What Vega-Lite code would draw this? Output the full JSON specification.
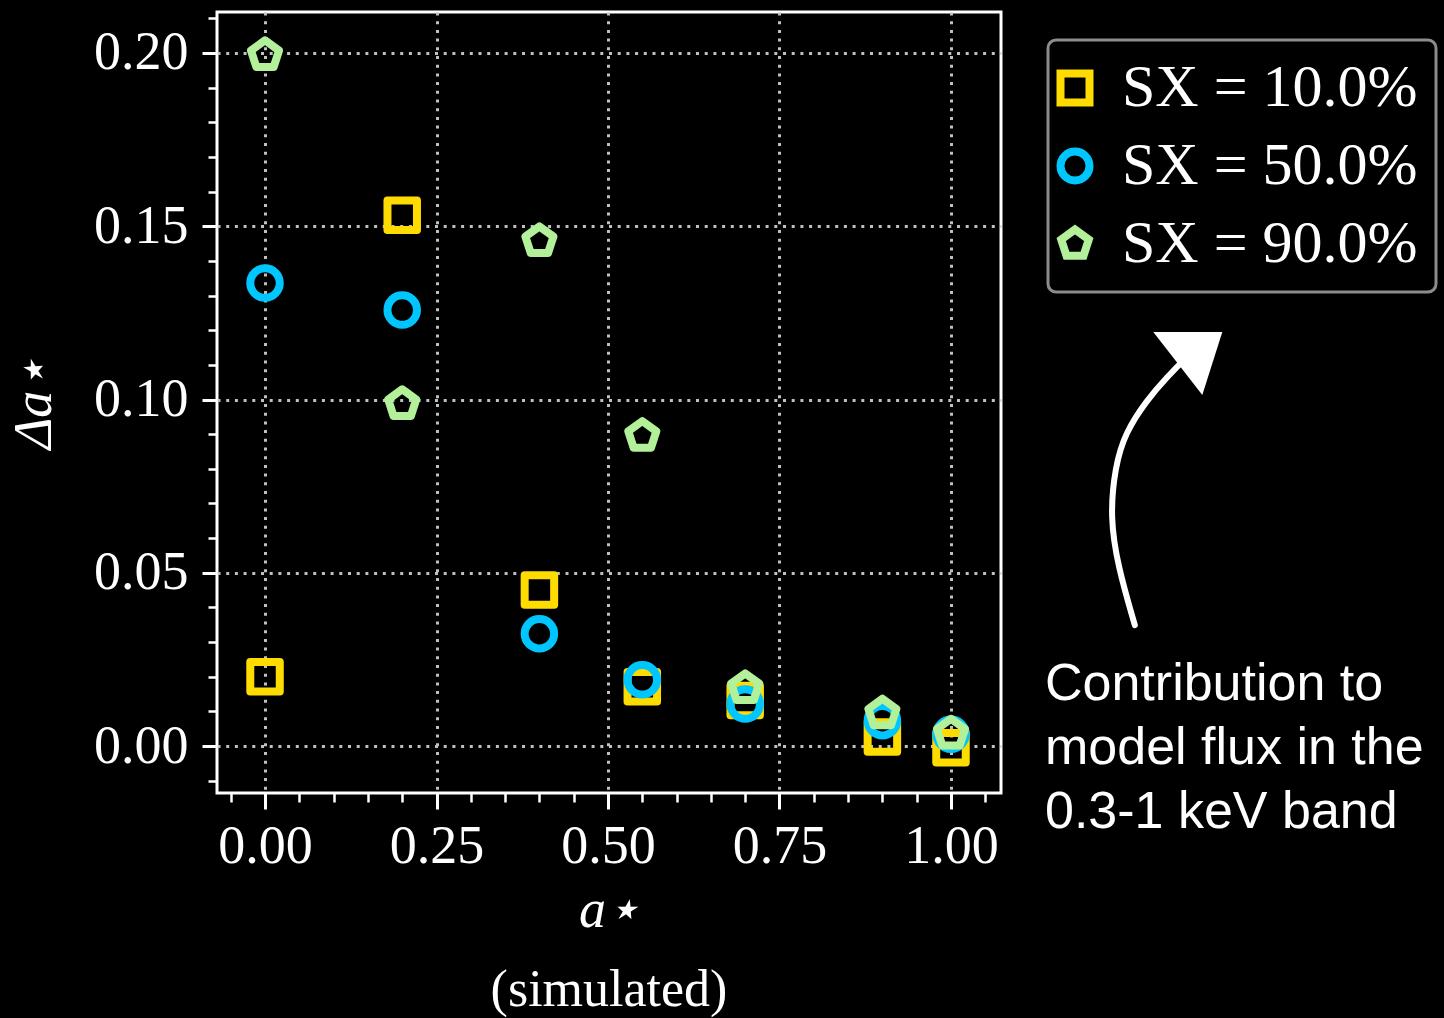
{
  "$schema": "https://vega.github.io/schema/vega-lite/v6.json",
  "width": 784,
  "height": 781,
  "autosize": {"type": "none"},
  "padding": {"left": 217, "top": 12, "right": 443, "bottom": 225},
  "background": "black",
  "datasets": {
    "spin": [
      {"spin": 0.0, "delta": 0.0200, "sx": "SX = 10.0%"},
      {"spin": 0.2, "delta": 0.1532, "sx": "SX = 10.0%"},
      {"spin": 0.4, "delta": 0.0450, "sx": "SX = 10.0%"},
      {"spin": 0.55, "delta": 0.0171, "sx": "SX = 10.0%"},
      {"spin": 0.7, "delta": 0.0131, "sx": "SX = 10.0%"},
      {"spin": 0.9, "delta": 0.0026, "sx": "SX = 10.0%"},
      {"spin": 1.0, "delta": -0.0005, "sx": "SX = 10.0%"},
      {"spin": 0.0, "delta": 0.1336, "sx": "SX = 50.0%"},
      {"spin": 0.2, "delta": 0.1258, "sx": "SX = 50.0%"},
      {"spin": 0.4, "delta": 0.0324, "sx": "SX = 50.0%"},
      {"spin": 0.55, "delta": 0.0191, "sx": "SX = 50.0%"},
      {"spin": 0.7, "delta": 0.0121, "sx": "SX = 50.0%"},
      {"spin": 0.9, "delta": 0.0073, "sx": "SX = 50.0%"},
      {"spin": 1.0, "delta": 0.0034, "sx": "SX = 50.0%"},
      {"spin": 0.0, "delta": 0.1994, "sx": "SX = 90.0%"},
      {"spin": 0.2, "delta": 0.0987, "sx": "SX = 90.0%"},
      {"spin": 0.4, "delta": 0.1457, "sx": "SX = 90.0%"},
      {"spin": 0.55, "delta": 0.0895, "sx": "SX = 90.0%"},
      {"spin": 0.7, "delta": 0.0167, "sx": "SX = 90.0%"},
      {"spin": 0.9, "delta": 0.0094, "sx": "SX = 90.0%"},
      {"spin": 1.0, "delta": 0.0036, "sx": "SX = 90.0%"}
    ],
    "arrow": [
      {"ax": 1.268, "ay": 0.0349},
      {"ax": 1.2434, "ay": 0.0517},
      {"ax": 1.2318, "ay": 0.0661},
      {"ax": 1.2391, "ay": 0.0805},
      {"ax": 1.2536, "ay": 0.0903},
      {"ax": 1.2857, "ay": 0.0999},
      {"ax": 1.3149, "ay": 0.1065},
      {"ax": 1.344, "ay": 0.1123},
      {"ax": 1.3673, "ay": 0.1163}
    ],
    "head": [{"ax": 1.3518, "ay": 0.1134}],
    "note": [{"ax": 1.137, "ay": 0.0133, "text": "Contribution to\nmodel flux in the\n0.3-1 keV band"}]
  },
  "title": {
    "text": "(simulated)",
    "orient": "bottom",
    "anchor": "middle",
    "offset": 28,
    "font": "Liberation Serif",
    "fontSize": 52,
    "fontWeight": "normal",
    "color": "white"
  },
  "layer": [
    {
      "description": "Minor ticks on both axes",
      "data": {"name": "spin"},
      "mark": {"type": "point", "opacity": 0},
      "encoding": {
        "x": {
          "field": "spin", "type": "quantitative",
          "scale": {"domain": [-0.07, 1.0729], "nice": false, "zero": false},
          "axis": {"orient": "bottom", "values": [-0.05, 0.05, 0.1, 0.15, 0.2, 0.3, 0.35, 0.4, 0.45, 0.55, 0.6, 0.65, 0.7, 0.8, 0.85, 0.9, 0.95, 1.05], "labels": false, "grid": false, "tickSize": 9, "tickWidth": 2.5, "title": null}
        },
        "y": {
          "field": "delta", "type": "quantitative",
          "scale": {"domain": [-0.01356, 0.21183], "nice": false, "zero": false},
          "axis": {"orient": "left", "values": [-0.01, 0.01, 0.02, 0.03, 0.04, 0.06, 0.07, 0.08, 0.09, 0.11, 0.12, 0.13, 0.14, 0.16, 0.17, 0.18, 0.19, 0.21], "labels": false, "grid": false, "tickSize": 9, "tickWidth": 2.5, "title": null}
        }
      }
    },
    {
      "description": "Spin uncertainty for each soft-excess fraction",
      "data": {"name": "spin"},
      "mark": {"type": "point", "filled": false, "strokeWidth": 8, "strokeJoin": "round", "size": 870, "opacity": 1},
      "encoding": {
        "x": {
          "field": "spin", "type": "quantitative",
          "axis": {"orient": "bottom", "values": [0, 0.25, 0.5, 0.75, 1], "format": ".2f", "tickSize": 16, "labelPadding": 10, "grid": true, "title": "a⋆", "titleFontStyle": "italic", "titlePadding": 10}
        },
        "y": {
          "field": "delta", "type": "quantitative",
          "axis": {"orient": "left", "values": [0, 0.05, 0.1, 0.15, 0.2], "format": ".2f", "tickSize": 15, "labelPadding": 14, "grid": true, "title": "Δa⋆", "titleFontStyle": "italic", "titlePadding": 32}
        },
        "color": {
          "field": "sx", "type": "nominal",
          "scale": {"domain": ["SX = 10.0%", "SX = 50.0%", "SX = 90.0%"], "range": ["#FFDC00", "#00C6FF", "#B3F09A"]},
          "legend": {
            "title": null, "orient": "none", "legendX": 831, "legendY": 28,
            "fillColor": "black", "strokeColor": "#8c8c8c", "cornerRadius": 8,
            "padding": 18, "labelFont": "Liberation Serif", "labelFontSize": 60, "labelColor": "white", "labelLimit": 0,
            "symbolSize": 841, "symbolStrokeWidth": 8, "symbolOffset": -21, "labelOffset": 17, "rowPadding": 16
          }
        },
        "shape": {
          "field": "sx", "type": "nominal",
          "scale": {"domain": ["SX = 10.0%", "SX = 50.0%", "SX = 90.0%"], "range": ["square", "circle", "M0,-1L0.951,-0.309L0.588,0.809L-0.588,0.809L-0.951,-0.309Z"]}
        }
      }
    },
    {
      "description": "Hand-drawn style arrow pointing at the legend",
      "data": {"name": "arrow"},
      "mark": {"type": "line", "color": "white", "strokeWidth": 6, "strokeCap": "round", "interpolate": "basis"},
      "encoding": {
        "x": {"field": "ax", "type": "quantitative", "axis": null},
        "y": {"field": "ay", "type": "quantitative", "axis": null},
        "order": {"value": null}
      }
    },
    {
      "data": {"name": "head"},
      "mark": {"type": "point", "filled": true, "color": "white", "opacity": 1, "size": 7056, "shape": "M-0.929,-0.5L0.714,-0.5L0.238,1Z"},
      "encoding": {
        "x": {"field": "ax", "type": "quantitative", "axis": null},
        "y": {"field": "ay", "type": "quantitative", "axis": null}
      }
    },
    {
      "data": {"name": "note"},
      "mark": {"type": "text", "align": "left", "baseline": "alphabetic", "lineBreak": "\n", "lineHeight": 64, "font": "Liberation Sans", "fontSize": 52, "color": "white"},
      "encoding": {
        "x": {"field": "ax", "type": "quantitative", "axis": null},
        "y": {"field": "ay", "type": "quantitative", "axis": null},
        "text": {"field": "text"}
      }
    }
  ],
  "resolve": {"axis": {"x": "independent", "y": "independent"}},
  "config": {
    "view": {"stroke": "white", "strokeWidth": 3},
    "legend": {"strokeWidth": 3},
    "axis": {
      "domain": false,
      "labelColor": "white",
      "labelFont": "Liberation Serif",
      "labelFontSize": 54,
      "tickColor": "white",
      "tickWidth": 3,
      "gridColor": "#c0c0c0",
      "gridDash": [3, 5.7],
      "gridWidth": 3,
      "titleColor": "white",
      "titleFont": "Liberation Serif",
      "titleFontSize": 54,
      "titleFontWeight": "normal"
    }
  }
}
